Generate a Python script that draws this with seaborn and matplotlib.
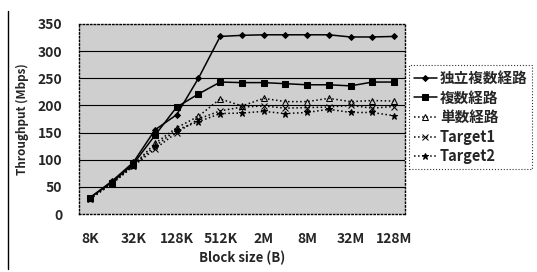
import seaborn as sns
import matplotlib.pyplot as plt
import pandas as pd

block_sizes = ["8K", "16K", "32K", "64K", "128K", "256K", "512K", "1M",
               "2M", "4M", "8M", "16M", "32M", "64M", "128M"]
tick_labels = ["8K", "32K", "128K", "512K", "2M", "8M", "32M", "128M"]

indep_multi = [30, 60, 95, 155, 183, 250, 327, 329, 330, 330, 330, 330, 326, 326, 327]
multi_path = [30, 58, 92, 145, 197, 221, 243, 242, 242, 240, 238, 238, 236, 243, 243]
single_path = [30, 57, 90, 130, 159, 180, 212, 199, 213, 207, 207, 213, 207, 209, 208]
target1 = [28, 55, 88, 120, 150, 175, 190, 197, 199, 195, 196, 197, 200, 195, 198]
target2 = [27, 56, 89, 125, 155, 170, 185, 186, 189, 185, 187, 193, 187, 187, 181]

series = {
    "独立複数経路": indep_multi,
    "複数経路": multi_path,
    "単数経路": single_path,
    "Target1": target1,
    "Target2": target2,
}

sns.set_style("white")
plt.rcParams['font.family'] = ['Noto Sans CJK JP', 'DejaVu Sans']

fig = plt.figure(figsize=(5.37, 2.72), dpi=100)
ax = fig.add_axes([0.147, 0.213, 0.607, 0.699])
ax.set_facecolor("#cfcfcf")

styles = {
    "独立複数経路": dict(marker="D", markersize=3, linestyle="-", mfc="black"),
    "複数経路": dict(marker="s", markersize=4, linestyle="-", mfc="black"),
    "単数経路": dict(marker="^", markersize=4, linestyle=":", mfc="none"),
    "Target1": dict(marker="x", markersize=4, linestyle=":", mfc="black"),
    "Target2": dict(marker="*", markersize=5, linestyle=":", mfc="black"),
}

x = list(range(len(block_sizes)))
for name, vals in series.items():
    df = pd.DataFrame({"x": x, "y": vals})
    st = styles[name]
    sns.lineplot(data=df, x="x", y="y", ax=ax, color="black", linewidth=1.1,
                 marker=st["marker"], markersize=st["markersize"],
                 linestyle=st["linestyle"], markerfacecolor=st["mfc"],
                 markeredgecolor="black", label=name)

for yv in [50, 100, 150, 200, 250, 300]:
    ax.axhline(yv, color="black", linewidth=0.8, zorder=1)

ax.set_xlim(-0.5, len(block_sizes) - 0.5)
ax.set_ylim(0, 350)
ax.set_xticks(range(0, len(block_sizes), 2))
ax.set_xticklabels(tick_labels, fontsize=10, fontweight="bold")
ax.set_yticks(range(0, 351, 50))
ax.set_yticklabels([str(v) for v in range(0, 351, 50)], fontsize=10, fontweight="bold")
ax.tick_params(axis="x", length=0, pad=13)
ax.tick_params(axis="y", length=0, pad=12)
ax.set_xlabel("Block size (B)", fontsize=9.5, fontweight="bold", labelpad=3)
ax.set_ylabel("Throughput (Mbps)", fontsize=8.5, fontweight="bold", labelpad=6)
for sp in ax.spines.values():
    sp.set_linestyle(":")
    sp.set_linewidth(1)
    sp.set_color("black")

leg = ax.legend(loc="center left", bbox_to_anchor=(1.005, 0.51), frameon=True,
                fancybox=False, edgecolor="black", fontsize=10.5,
                handlelength=1.6, handletextpad=0.2, labelspacing=0.25,
                borderpad=0.3, borderaxespad=0.2)
leg.get_frame().set_linestyle(":")
leg.get_frame().set_linewidth(0.8)
for t in leg.get_texts():
    t.set_fontweight("bold")

fig.add_artist(plt.Line2D([0.015, 0.015], [0.01, 0.96], color="black", linewidth=1,
                          transform=fig.transFigure))

fig.savefig("out.png", dpi=100)
